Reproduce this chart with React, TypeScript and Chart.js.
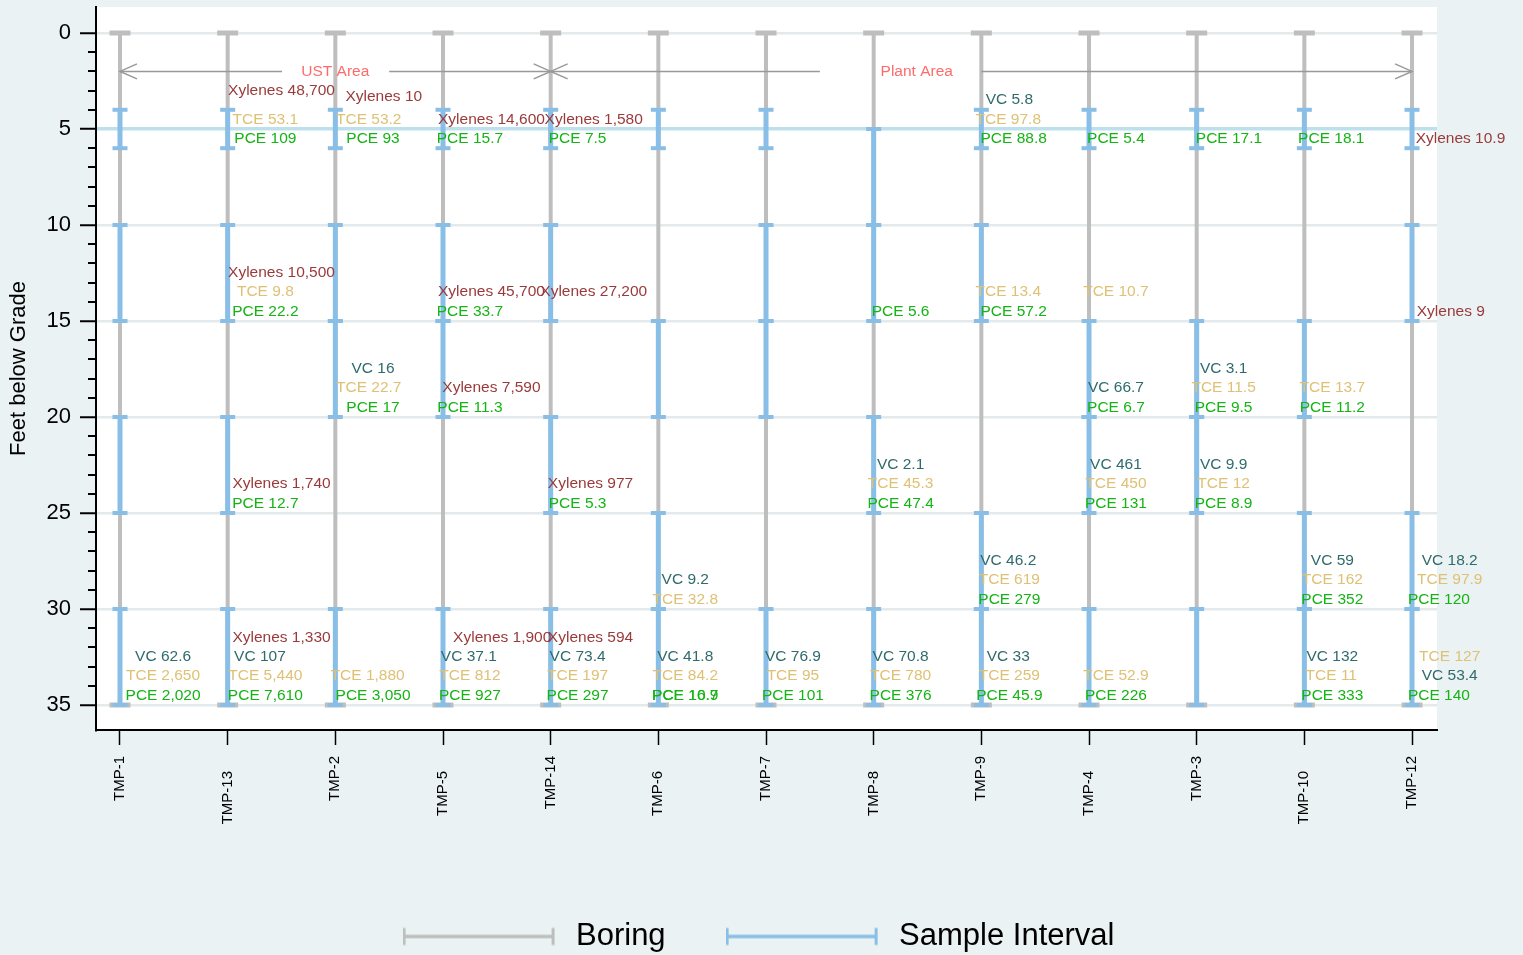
import React, { useEffect, useRef } from 'react';
import { Chart, registerables } from 'chart.js';

Chart.register(...registerables);

// ---------------- data ----------------
const BORINGS = ['TMP-1', 'TMP-13', 'TMP-2', 'TMP-5', 'TMP-14', 'TMP-6', 'TMP-7', 'TMP-8', 'TMP-9', 'TMP-4', 'TMP-3', 'TMP-10', 'TMP-12'];
const BORING_TOP = [0, 0, 0, 0, 0, 0, 0, 0, 0, 0, 0, 0, 0];
const BORING_BOTTOM = [35, 35, 35, 35, 35, 35, 35, 35, 35, 35, 35, 35, 35];

// sample intervals [top, bottom] in feet below grade, per boring
const SAMPLE_INTERVALS: number[][][] = [
  [[4, 6], [10, 15], [20, 25], [30, 35]], // TMP-1
  [[4, 6], [10, 15], [20, 25], [30, 35]], // TMP-13
  [[4, 6], [10, 15], [15, 20], [30, 35]], // TMP-2
  [[4, 6], [10, 15], [15, 20], [30, 35]], // TMP-5
  [[4, 6], [10, 15], [20, 25], [30, 35]], // TMP-14
  [[4, 6], [15, 20], [25, 30], [30, 35]], // TMP-6
  [[4, 6], [10, 15], [15, 20], [30, 35]], // TMP-7
  [[5, 10], [10, 15], [20, 25], [30, 35]], // TMP-8
  [[4, 6], [10, 15], [25, 30], [30, 35]], // TMP-9
  [[4, 6], [15, 20], [20, 25], [30, 35]], // TMP-4
  [[4, 6], [15, 20], [20, 25], [30, 35]], // TMP-3
  [[4, 6], [15, 20], [25, 30], [30, 35]], // TMP-10
  [[4, 6], [10, 15], [25, 30], [30, 35]], // TMP-12
];

// concentration labels: [x (boring axis), depth (ft), value]
const XYLENES: number[][] = [
  [1.5, 3.0, 48700], [1.5, 12.5, 10500], [1.5, 23.5, 1740], [1.5, 31.5, 1330],
  [2.45, 3.3, 10],
  [3.45, 4.5, 14600], [3.45, 13.5, 45700], [3.45, 18.5, 7590], [3.55, 31.5, 1900],
  [4.4, 4.5, 1580], [4.4, 13.5, 27200], [4.37, 23.5, 977], [4.37, 31.5, 594],
  [12.45, 5.5, 10.9], [12.36, 14.5, 9],
];
const TCE: number[][] = [
  [0.4, 33.5, 2650],
  [1.35, 4.5, 53.1], [1.35, 13.5, 9.8], [1.35, 33.5, 5440],
  [2.31, 4.5, 53.2], [2.31, 18.5, 22.7], [2.3, 33.5, 1880],
  [3.25, 33.5, 812],
  [4.25, 33.5, 197],
  [5.25, 29.5, 32.8], [5.25, 33.5, 84.2],
  [6.25, 33.5, 95],
  [7.25, 23.5, 45.3], [7.25, 33.5, 780],
  [8.25, 4.5, 97.8], [8.25, 13.5, 13.4], [8.26, 28.5, 619], [8.26, 33.5, 259],
  [9.25, 13.5, 10.7], [9.25, 23.5, 450], [9.25, 33.5, 52.9],
  [10.25, 18.5, 11.5], [10.25, 23.5, 12],
  [11.26, 18.5, 13.7], [11.26, 28.5, 162], [11.25, 33.5, 11],
  [12.35, 28.5, 97.9], [12.35, 32.5, 127],
];
const PCE: number[][] = [
  [0.4, 34.5, 2020],
  [1.35, 5.5, 109], [1.35, 14.5, 22.2], [1.35, 24.5, 12.7], [1.35, 34.5, 7610],
  [2.35, 5.5, 93], [2.35, 19.5, 17], [2.35, 34.5, 3050],
  [3.25, 5.5, 15.7], [3.25, 14.5, 33.7], [3.25, 19.5, 11.3], [3.25, 34.5, 927],
  [4.25, 5.5, 7.5], [4.25, 24.5, 5.3], [4.25, 34.5, 297],
  [5.25, 34.5, 16.9], [5.25, 34.5, 10.7],
  [6.25, 34.5, 101],
  [7.25, 14.5, 5.6], [7.25, 24.5, 47.4], [7.25, 34.5, 376],
  [8.3, 5.5, 88.8], [8.3, 14.5, 57.2], [8.26, 29.5, 279], [8.26, 34.5, 45.9],
  [9.25, 5.5, 5.4], [9.25, 19.5, 6.7], [9.25, 24.5, 131], [9.25, 34.5, 226],
  [10.3, 5.5, 17.1], [10.25, 19.5, 9.5], [10.25, 24.5, 8.9],
  [11.25, 5.5, 18.1], [11.26, 19.5, 11.2], [11.26, 29.5, 352], [11.26, 34.5, 333],
  [12.25, 29.5, 120], [12.25, 34.5, 140],
];
const VC: number[][] = [
  [0.4, 32.5, 62.6],
  [1.3, 32.5, 107],
  [2.35, 17.5, 16],
  [3.24, 32.5, 37.1],
  [4.25, 32.5, 73.4],
  [5.25, 28.5, 9.2], [5.25, 32.5, 41.8],
  [6.25, 32.5, 76.9],
  [7.25, 22.5, 2.1], [7.25, 32.5, 70.8],
  [8.26, 3.5, 5.8], [8.25, 27.5, 46.2], [8.25, 32.5, 33],
  [9.25, 18.5, 66.7], [9.25, 22.5, 461],
  [10.25, 17.5, 3.1], [10.25, 22.5, 9.9],
  [11.26, 27.5, 59], [11.26, 32.5, 132],
  [12.35, 27.5, 18.2], [12.35, 33.5, 53.4],
];

// area annotations (drawn at a depth of 2 ft)
const AREA_NAMES = ['UST Area', 'Plant Area'];
const AREA_FROM = [0, 4];
const AREA_TO = [4, 12];
const AREA_GAP_FROM = [1.505, 6.5];
const AREA_GAP_TO = [2.5, 8.0];
const AREA_TEXT_X = [2.0, 7.4];
const AREA_DEPTH = 2;

const Y_MAJOR_TICKS = [0, 5, 10, 15, 20, 25, 30, 35];
const Y_MINOR_STEP = 1;

// ---------------- styles ----------------
const FONT = '"Liberation Sans", Arial, Helvetica, sans-serif';
const BG = '#EAF2F3';
const GRAY = '#BEBEBE';
const BLUE = '#89BFE6';
const COLORS: Record<string, string> = {
  Xylenes: '#9A3A3A',
  TCE: '#DFC175',
  PCE: '#14B414',
  VC: '#2F6B6B',
};

const fmt = (v: number) => v.toLocaleString('en-US', { maximumFractionDigits: 2 });

function legendSymbol(color: string) {
  const c = document.createElement('canvas');
  c.width = 158;
  c.height = 20;
  const g = c.getContext('2d')!;
  g.strokeStyle = color;
  g.lineWidth = 3.5;
  g.beginPath();
  g.moveTo(0, 10);
  g.lineTo(152, 10);
  g.stroke();
  g.lineWidth = 3;
  g.beginPath();
  g.moveTo(1.5, 1.5);
  g.lineTo(1.5, 18.5);
  g.moveTo(150.5, 1.5);
  g.lineTo(150.5, 18.5);
  g.stroke();
  return c;
}

const decorPlugin = {
  id: 'decor',
  beforeDraw(chart: any) {
    const { ctx, chartArea: a } = chart;
    ctx.save();
    ctx.fillStyle = BG;
    ctx.fillRect(0, 0, chart.width, chart.height);
    ctx.fillStyle = '#FFFFFF';
    ctx.fillRect(a.left, a.top, a.right - a.left, a.bottom - a.top);
    ctx.restore();
  },
  afterDatasetsDraw(chart: any) {
    const { ctx } = chart;
    const xs = chart.scales.x;
    const ys = chart.scales.y;
    ctx.save();
    // arrowheads
    ctx.strokeStyle = '#999999';
    ctx.lineWidth = 1.5;
    const head = (px: number, py: number, dir: number) => {
      ctx.beginPath();
      ctx.moveTo(px + dir * 17, py - 7.5);
      ctx.lineTo(px, py);
      ctx.lineTo(px + dir * 17, py + 7.5);
      ctx.stroke();
    };
    const ay = ys.getPixelForValue(AREA_DEPTH);
    AREA_NAMES.forEach((name, k) => {
      head(xs.getPixelForValue(AREA_FROM[k]), ay, 1);
      head(xs.getPixelForValue(AREA_TO[k]), ay, -1);
      ctx.fillStyle = '#FF6B6B';
      ctx.font = `15.5px ${FONT}`;
      ctx.textAlign = 'center';
      ctx.textBaseline = 'middle';
      ctx.fillText(name, xs.getPixelForValue(AREA_TEXT_X[k]), ay);
    });
    // concentration labels
    const groups: [string, number[][]][] = [['Xylenes', XYLENES], ['TCE', TCE], ['PCE', PCE], ['VC', VC]];
    ctx.font = `15.5px ${FONT}`;
    ctx.textAlign = 'center';
    ctx.textBaseline = 'middle';
    groups.forEach(([name, rows]) => {
      ctx.fillStyle = COLORS[name];
      rows.forEach(([x, d, v]) => {
        ctx.fillText(`${name} ${fmt(v)}`, xs.getPixelForValue(x), ys.getPixelForValue(d));
      });
    });
    ctx.restore();
  },
  afterDraw(chart: any) {
    const { ctx } = chart;
    const xs = chart.scales.x;
    const ys = chart.scales.y;
    ctx.save();
    // minor y ticks
    ctx.strokeStyle = '#000';
    ctx.lineWidth = 2;
    for (let v = Y_MAJOR_TICKS[0]; v <= Y_MAJOR_TICKS[Y_MAJOR_TICKS.length - 1]; v += Y_MINOR_STEP) {
      if (Y_MAJOR_TICKS.includes(v)) continue;
      const py = Math.round(ys.getPixelForValue(v));
      ctx.beginPath();
      ctx.moveTo(ys.right - 8, py);
      ctx.lineTo(ys.right, py);
      ctx.stroke();
    }
    // x labels (rotated, alternating offset)
    ctx.fillStyle = '#000';
    ctx.font = `15px ${FONT}`;
    ctx.textAlign = 'right';
    ctx.textBaseline = 'middle';
    BORINGS.forEach((name, i) => {
      const px = xs.getPixelForValue(i);
      const py = xs.top + 15 + 11 + (i % 2 ? 15 : 0);
      ctx.save();
      ctx.translate(px, py);
      ctx.rotate(-Math.PI / 2);
      ctx.fillText(name, 0, 0);
      ctx.restore();
    });
    ctx.restore();
  },
};

export default function App() {
  const ref = useRef<HTMLCanvasElement>(null);

  useEffect(() => {
    const canvas = ref.current;
    if (!canvas) return;
    Chart.defaults.font.family = FONT;

    const boringData: any[] = [];
    BORINGS.forEach((_, i) => {
      boringData.push({ x: i, y: BORING_TOP[i] }, { x: i, y: BORING_BOTTOM[i] }, { x: i, y: null });
    });
    const sampleData: any[] = [];
    SAMPLE_INTERVALS.forEach((ints, i) => {
      ints.forEach(([a, b]) => sampleData.push({ x: i, y: a }, { x: i, y: b }, { x: i, y: null }));
    });
    const areaData: any[] = [];
    AREA_NAMES.forEach((_, k) => {
      areaData.push(
        { x: AREA_FROM[k], y: AREA_DEPTH },
        { x: AREA_GAP_FROM[k], y: AREA_DEPTH },
        { x: AREA_GAP_FROM[k], y: null },
        { x: AREA_GAP_TO[k], y: AREA_DEPTH },
        { x: AREA_TO[k], y: AREA_DEPTH },
        { x: AREA_TO[k], y: null },
      );
    });

    const grayImg = legendSymbol(GRAY);
    const blueImg = legendSymbol(BLUE);

    const chart = new Chart(canvas, {
      type: 'line',
      data: {
        datasets: [
          {
            label: 'Boring',
            data: boringData,
            xAxisID: 'x',
            yAxisID: 'y',
            borderColor: GRAY,
            borderWidth: 4,
            pointStyle: 'line',
            pointRadius: 10.5,
            pointBorderWidth: 5,
            pointBorderColor: GRAY,
            pointBackgroundColor: GRAY,
            spanGaps: false,
            tension: 0,
            order: 3,
          },
          {
            label: 'Sample Interval',
            data: sampleData,
            xAxisID: 'x',
            yAxisID: 'y',
            borderColor: BLUE,
            borderWidth: 5,
            pointStyle: 'line',
            pointRadius: 7.5,
            pointBorderWidth: 4,
            pointBorderColor: BLUE,
            pointBackgroundColor: BLUE,
            spanGaps: false,
            tension: 0,
            order: 2,
          },
          {
            label: 'Areas',
            data: areaData,
            xAxisID: 'x',
            yAxisID: 'y',
            borderColor: '#999999',
            borderWidth: 1.5,
            pointRadius: 0,
            spanGaps: false,
            tension: 0,
            order: 1,
          },
        ] as any,
      },
      options: {
        responsive: false,
        animation: false,
        events: [],
        layout: { autoPadding: false, padding: { top: 7, left: 0, right: 6, bottom: -7 } },
        scales: {
          x: {
            type: 'linear',
            min: -0.2229,
            max: 12.232,
            afterBuildTicks: (s: any) => {
              s.ticks = BORINGS.map((_, i) => ({ value: i }));
            },
            afterFit: (s: any) => {
              s.height = 131;
              s.paddingLeft = 0;
              s.paddingRight = 0;
            },
            ticks: { display: false },
            grid: { drawOnChartArea: false, drawTicks: true, tickLength: 15, tickWidth: 1.5, tickColor: '#000' },
            border: { display: true, color: '#000', width: 2 },
          },
          y: {
            type: 'linear',
            position: 'left',
            reverse: true,
            min: -1.354,
            max: 36.302,
            afterBuildTicks: (s: any) => {
              const t: any[] = [];
              for (let v = Y_MAJOR_TICKS[0]; v <= Y_MAJOR_TICKS[Y_MAJOR_TICKS.length - 1]; v += Y_MINOR_STEP) t.push({ value: v });
              s.ticks = t;
            },
            afterFit: (s: any) => {
              s.width = 96;
              s.paddingTop = 0;
              s.paddingBottom = 0;
            },
            ticks: {
              autoSkip: false,
              padding: 9,
              color: '#000',
              font: { size: 22 },
              callback: (v: any) => (Y_MAJOR_TICKS.includes(Number(v)) ? String(v) : ''),
            },
            grid: {
              drawTicks: true,
              tickLength: 16,
              tickWidth: 2,
              tickColor: (c: any) => (Y_MAJOR_TICKS.includes(c.tick?.value) ? '#000' : 'rgba(0,0,0,0)'),
              color: (c: any) => {
                const v = c.tick?.value;
                if (v === 5) return '#BDE0EC';
                return Y_MAJOR_TICKS.includes(v) ? '#E4EAEC' : 'rgba(0,0,0,0)';
              },
              lineWidth: (c: any) => (c.tick?.value === 5 ? 3.5 : 2.5),
            },
            border: { display: true, color: '#000', width: 2 },
            title: {
              display: true,
              text: 'Feet below Grade',
              color: '#000',
              font: { size: 22 },
              padding: { top: 6, bottom: 0 },
            },
          },
          yRight: {
            type: 'linear',
            position: 'right',
            display: true,
            min: 0,
            max: 1,
            afterFit: (s: any) => {
              s.width = 80;
              s.paddingTop = 0;
              s.paddingBottom = 0;
            },
            ticks: { display: false },
            grid: { display: false, drawTicks: false },
            border: { display: false },
          },
        } as any,
        plugins: {
          tooltip: { enabled: false },
          legend: {
            display: true,
            position: 'bottom',
            align: 'center',
            labels: {
              usePointStyle: true,
              pointStyleWidth: 158,
              padding: 60,
              color: '#000',
              font: { size: 31 },
              generateLabels: () => [
                { text: 'Boring', pointStyle: grayImg, fillStyle: GRAY, strokeStyle: GRAY, lineWidth: 0, hidden: false, datasetIndex: 0, fontColor: '#000' },
                { text: 'Sample Interval', pointStyle: blueImg, fillStyle: BLUE, strokeStyle: BLUE, lineWidth: 0, hidden: false, datasetIndex: 1, fontColor: '#000' },
              ] as any,
            },
          },
        },
      } as any,
      plugins: [decorPlugin],
    });

    return () => chart.destroy();
  }, []);

  return (
    <div style={{ position: 'fixed', left: 0, top: 0, width: 1523, height: 955, background: BG }}>
      <canvas ref={ref} width={1523} height={955} style={{ display: 'block', width: 1523, height: 955 }} />
    </div>
  );
}
